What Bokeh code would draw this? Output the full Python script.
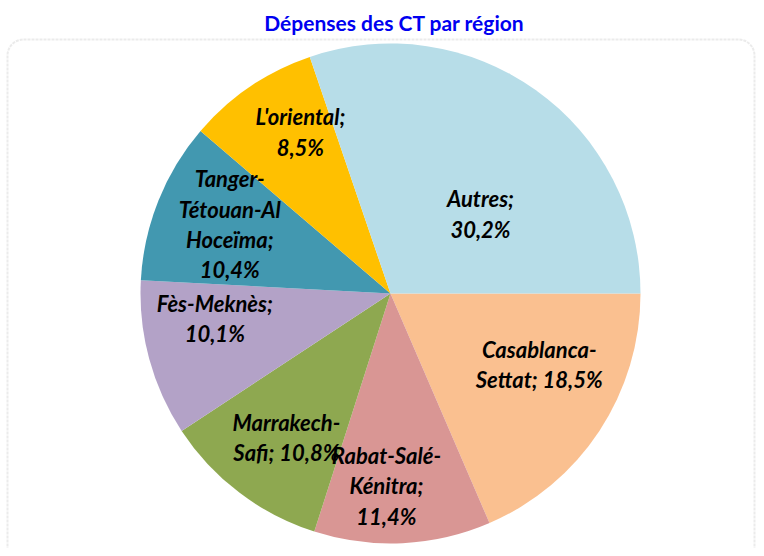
import math
from bokeh.plotting import figure
from bokeh.models import Range1d, ColumnDataSource, BoxAnnotation
from bokeh.core.properties import value
from bokeh.embed import file_html
from bokeh.resources import INLINE

# ---- data (clockwise from 3 o'clock) ----
regions = ["Casablanca-\nSettat; 18,5%", "Rabat-Salé-\nKénitra;\n11,4%", "Marrakech-\nSafi; 10,8%",
           "Fès-Meknès;\n10,1%", "Tanger-\nTétouan-Al\nHoceïma;\n10,4%", "L'oriental;\n8,5%", "Autres;\n30,2%"]
shares = [18.5, 11.4, 10.8, 10.1, 10.4, 8.5, 30.2]
colors = ["#FAC090", "#D99694", "#8EA850", "#B3A2C7", "#4298B0", "#FFC000", "#B7DDE8"]
title_text = "Dépenses des CT par région"

# ---- layout (screen-pixel frame, y measured upward) ----
W, H = 756, 548
CX, CY, R = 390, 556 - 293, 250
label_r = [0.66, 0.77, 0.71, 0.71, 0.70, 0.74, 0.48]
label_nudge = [7.7, -4.0, 1.3, -7.0, -1.5, -5.0, -13.0]  # degrees

total = sum(shares)
starts, ends, lx, ly = [], [], [], []
cum = 0.0
for i, v in enumerate(shares):
    a0 = -cum / total * 2 * math.pi
    a1 = -(cum + v) / total * 2 * math.pi
    starts.append(a1)
    ends.append(a0)
    mid = (a0 + a1) / 2 + math.radians(label_nudge[i])
    lx.append(CX + label_r[i] * R * math.cos(mid))
    ly.append(CY + label_r[i] * R * math.sin(mid))
    cum += v

src = ColumnDataSource(dict(start=starts, end=ends, color=colors, label=regions, lx=lx, ly=ly))

p = figure(width=W, height=H, x_range=Range1d(0, W), y_range=Range1d(556 - H, 556),
           output_backend="svg", toolbar_location=None, min_border=0)
p.axis.visible = False
p.grid.visible = False
p.outline_line_color = None
p.background_fill_color = "white"

box = BoxAnnotation(left=7, right=754, top=556 - 39, bottom=-30, border_radius=16,
                    fill_alpha=0, line_color="#BDBDBD", line_width=2, line_dash="3 1")
p.add_layout(box)

p.wedge(x=CX, y=CY, radius=R, start_angle="start", end_angle="end", direction="anticlock",
        fill_color="color", line_color=None, source=src)

p.text(x="lx", y="ly", text="label", source=src, text_align="center", text_baseline="middle",
       text_font=value("Lato"), text_font_style="bold italic", text_font_size="22px",
       text_line_height=1.12, text_color="black")

p.text(x=[394], y=[556 - 22], text=[title_text], text_align="center", text_baseline="middle",
       text_font=value("Lato"), text_font_style="bold", text_font_size="21px", text_color="#0000F0")

open("out.html", "w").write(file_html(p, INLINE))
